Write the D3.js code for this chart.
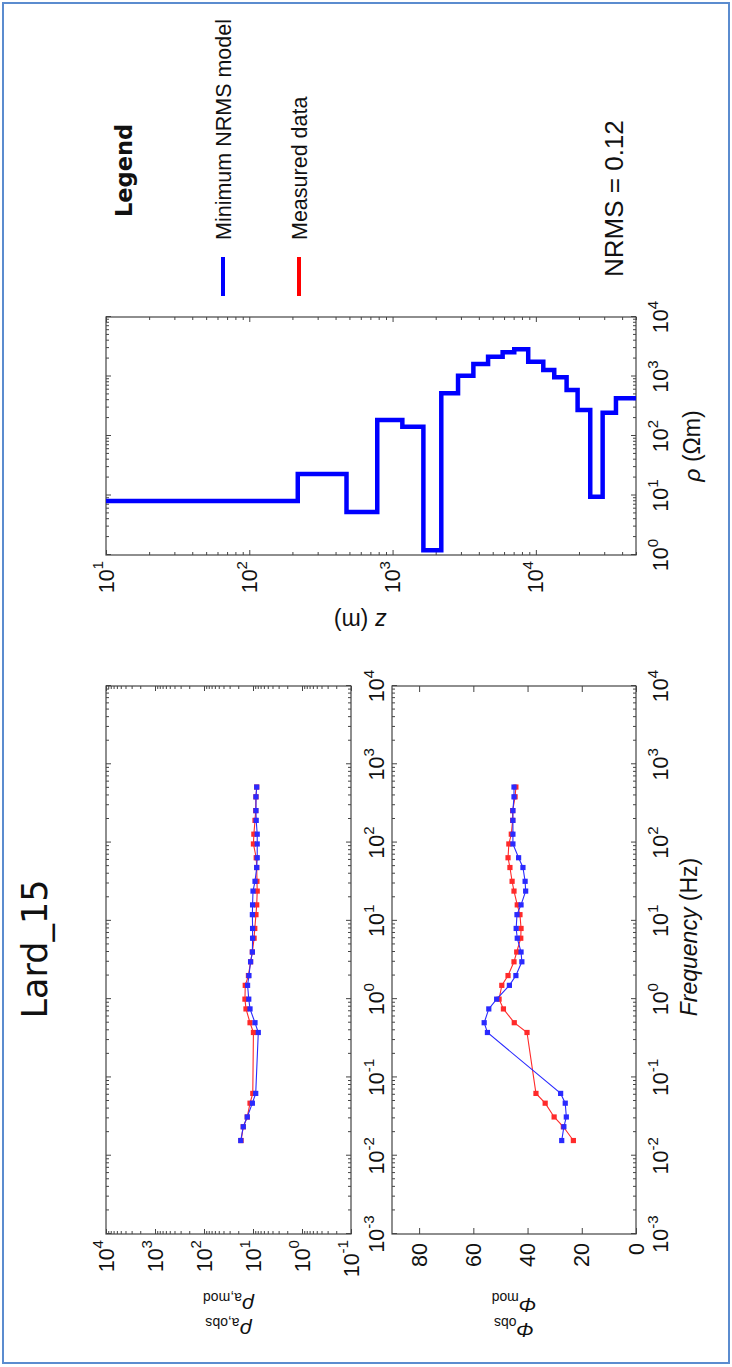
<!DOCTYPE html>
<html><head><meta charset="utf-8">
<script src="https://cdn.jsdelivr.net/npm/d3@7"></script>
<style>
html,body{margin:0;padding:0;background:#fff;}
svg{display:block;}
text{font-family:"Liberation Sans", Arial, sans-serif; fill:#111;}
</style></head>
<body><svg id="c" width="732" height="1367"></svg>
<script>
// ---------- data ----------
const frequencies = [0.015625, 0.0234375, 0.03125, 0.046875, 0.0625, 0.375, 0.5, 0.75, 1, 1.5, 2, 3, 4, 6, 8, 12, 16, 24, 32, 48, 64, 96, 128, 192, 256, 384, 512];
const rhoObs   = [17.5, 15.8, 13.1, 11.5, 10.1, 9.8, 11.5, 13.9, 14.6, 14.4, 12.4, 11.2, 10.3, 9.5, 9.2, 8.7, 8.4, 8.2, 8.3, 8.4, 8.6, 9.8, 9.6, 9.1, 8.8, 8.7, 8.4];
const rhoMod   = [17.8, 15.8, 13.1, 10.3, 8.8, 7.8, 9.1, 11.5, 12.2, 12.9, 12.1, 11.2, 10.3, 10.2, 10.2, 10.3, 10.2, 10.0, 9.1, 8.4, 8.2, 8.2, 8.2, 8.6, 8.7, 8.7, 8.4];
const phaseObs = [23.1, 26.8, 30.2, 33.5, 36.9, 40.2, 44.9, 48.9, 50.5, 49.5, 47.2, 45.0, 44.0, 42.5, 42.4, 42.8, 43.8, 45.0, 45.7, 46.5, 47.2, 46.9, 46.0, 45.5, 45.5, 44.6, 44.3];
const phaseMod = [27.4, 26.6, 25.7, 26.1, 27.8, 54.8, 56.0, 54.3, 51.4, 46.7, 44.3, 42.1, 42.4, 43.8, 44.2, 43.9, 42.4, 40.7, 40.9, 41.7, 43.3, 45.4, 45.4, 45.4, 45.4, 45.0, 45.0];
// layered model: boundaries (m) and resistivity of each layer (Ohm m)
const layerDepths = [10, 218, 477, 782, 1170, 1641, 2188, 2864, 3664, 4641, 5864, 7069, 8845, 11270, 13440, 16390, 19560, 23970, 29250, 36230, 50000];
const layerRho    = [8.1, 23, 5.3, 186, 143, 1.2, 522, 1031, 1622, 2153, 2548, 2866, 1774, 1285, 970, 593, 274, 9.5, 246, 430];
// ticks / labels
const freqTicks = [1e-3, 1e-2, 1e-1, 1, 10, 100, 1000, 10000];
const freqExp   = ["-3", "-2", "-1", "0", "1", "2", "3", "4"];
const rhoaTicks = [1e-1, 1, 10, 100, 1000, 10000];
const rhoaExp   = ["-1", "0", "1", "2", "3", "4"];
const phaseTicks = [0, 20, 40, 60, 80];
const depthTicks = [10, 100, 1000, 10000];
const depthExp   = ["1", "2", "3", "4"];
const rhoTicks = [1, 10, 100, 1000, 10000];
const rhoExp   = ["0", "1", "2", "3", "4"];
const titleText = "Lard_15";
const legendTitle = "Legend";
const legendItems = ["Minimum NRMS model", "Measured data"];
const nrmsText = "NRMS = 0.12";

// ---------- layout (unrotated frame, 1367 wide x 732 tall) ----------
const W = 1367;
const P1 = {x0:133, x1:681, y0:106, y1:351};
const P2 = {x0:133, x1:681, y0:392, y1:636};
const P3 = {x0:812, x1:1050, y0:106, y1:636};
const BLUE = "#2a2aff", RED = "#ff2a2a", AX = "#444";

const svg = d3.select("#c");
svg.append("rect").attr("x",3).attr("y",3).attr("width",726).attr("height",1360)
  .attr("fill","none").attr("stroke","#5b8ccf").attr("stroke-width",2);
const g = svg.append("g").attr("transform", `translate(0,${W}) rotate(-90)`);

// scales
const fx1 = d3.scaleLog().domain([1e-3, 1e4]).range([P1.x0, P1.x1]);
const ry  = d3.scaleLog().domain([1e-1, 1e4]).range([P1.y1, P1.y0]);
const py  = d3.scaleLinear().domain([0, 90]).range([P2.y1, P2.y0]);
const mx  = d3.scaleLog().domain([1, 1e4]).range([P3.x0, P3.x1]);
const mz  = d3.scaleLog().domain([10, 50000]).range([P3.y0, P3.y1]);

function minorOf(scale){
  return scale.ticks().filter(t => Math.abs(Math.log10(t) - Math.round(Math.log10(t))) > 1e-6);
}
function majorOf(scale){
  return scale.ticks().filter(t => Math.abs(Math.log10(t) - Math.round(Math.log10(t))) <= 1e-6);
}
function strip(sel){ sel.select(".domain").remove(); sel.selectAll(".tick line").attr("stroke", AX); }

function frame(P){
  g.append("rect").attr("x",P.x0).attr("y",P.y0).attr("width",P.x1-P.x0).attr("height",P.y1-P.y0)
   .attr("fill","none").attr("stroke",AX).attr("stroke-width",1.2);
}
function hTicks(scale, P, log, majLen, minLen, vals){
  const sets = log ? [[majorOf(scale), majLen],[minorOf(scale), minLen]] : [[vals, majLen]];
  sets.forEach(([tv, len]) => {
    g.append("g").attr("transform",`translate(0,${P.y1})`)
      .call(d3.axisBottom(scale).tickValues(tv).tickSize(-len).tickFormat("")).call(strip);
    g.append("g").attr("transform",`translate(0,${P.y0})`)
      .call(d3.axisTop(scale).tickValues(tv).tickSize(-len).tickFormat("")).call(strip);
  });
}
function vTicks(scale, P, log, majLen, minLen, vals){
  const sets = log ? [[majorOf(scale), majLen],[minorOf(scale), minLen]] : [[vals, majLen]];
  sets.forEach(([tv, len]) => {
    g.append("g").attr("transform",`translate(${P.x0},0)`)
      .call(d3.axisLeft(scale).tickValues(tv).tickSize(-len).tickFormat("")).call(strip);
    g.append("g").attr("transform",`translate(${P.x1},0)`)
      .call(d3.axisRight(scale).tickValues(tv).tickSize(-len).tickFormat("")).call(strip);
  });
}
// power-of-ten label
function powLabel(sel, fs){
  sel.each(function(d){
    const t = d3.select(this);
    t.append("tspan").text("10");
    t.append("tspan").attr("dy", -0.47*fs).style("font-size", (fs*0.7)+"px").text(d.e);
  });
}
const FS = 21.5;

// ---------- panel 1: apparent resistivity ----------
frame(P1);
hTicks(fx1, P1, true, 5, 3);
vTicks(ry, P1, true, 5, 3);
g.append("g").selectAll("text").data(rhoaTicks.map((v,i)=>({v, e:rhoaExp[i]}))).join("text")
  .attr("x", P1.x0-6).attr("y", d => ry(d.v)+7.5).attr("text-anchor","end")
  .style("font-size", FS+"px").call(powLabel, FS);
g.append("g").selectAll("text").data(freqTicks.map((v,i)=>({v, e:freqExp[i]}))).join("text")
  .attr("x", d => fx1(d.v)).attr("y", P1.y1+33).attr("text-anchor","middle")
  .style("font-size", FS+"px").call(powLabel, FS);

const clip1 = g.append("clipPath").attr("id","cp1").append("rect")
  .attr("x",P1.x0).attr("y",P1.y0).attr("width",P1.x1-P1.x0).attr("height",P1.y1-P1.y0);
function series(P, yScale, vals, color, clipId){
  const pts = frequencies.map((f,i)=>[fx1(f), yScale(vals[i])]);
  const gg = g.append("g").attr("clip-path",`url(#${clipId})`);
  gg.append("path").attr("d", d3.line()(pts)).attr("fill","none").attr("stroke",color).attr("stroke-width",1.1);
  gg.selectAll("rect").data(pts).join("rect")
    .attr("x", d=>d[0]-2.6).attr("y", d=>d[1]-2.6).attr("width",5.2).attr("height",5.2).attr("fill",color);
}
series(P1, ry, rhoObs, RED, "cp1");
series(P1, ry, rhoMod, BLUE, "cp1");

// ---------- panel 2: phase ----------
frame(P2);
hTicks(fx1, P2, true, 5, 3);
vTicks(py, P2, false, 6, 0, phaseTicks);
g.append("clipPath").attr("id","cp2").append("rect")
  .attr("x",P2.x0).attr("y",P2.y0).attr("width",P2.x1-P2.x0).attr("height",P2.y1-P2.y0);
g.append("g").selectAll("text").data(phaseTicks).join("text")
  .attr("x", P2.x0-9).attr("y", d => py(d)+7.5).attr("text-anchor","end")
  .style("font-size", FS+"px").text(d => d);
g.append("g").selectAll("text").data(freqTicks.map((v,i)=>({v, e:freqExp[i]}))).join("text")
  .attr("x", d => fx1(d.v)).attr("y", P2.y1+32).attr("text-anchor","middle")
  .style("font-size", FS+"px").call(powLabel, FS);
series(P2, py, phaseObs, RED, "cp2");
series(P2, py, phaseMod, BLUE, "cp2");

// axis titles left
const xl = g.append("text").attr("x", 430).attr("y", 697).attr("text-anchor","middle").style("font-size","23px");
xl.append("tspan").style("font-style","italic").text("Frequency");
xl.append("tspan").text(" (Hz)");

function yLab(x, y, sym, sub){
  const t = g.append("text").attr("transform",`translate(${x},${y}) rotate(-90)`).attr("text-anchor","middle").style("font-size","21px");
  t.append("tspan").style("font-style","italic").text(sym);
  t.append("tspan").attr("dy",5).style("font-size","14px").text(sub);
}
yLab(44, (P1.y0+P1.y1)/2, "\u03c1", "a,obs");
yLab(69, (P1.y0+P1.y1)/2, "\u03c1", "a,mod");
yLab(44, (P2.y0+P2.y1)/2, "\u03a6", "obs");
yLab(69, (P2.y0+P2.y1)/2, "\u03a6", "mod");

// title
g.append("text").attr("x", 418).attr("y", 47).attr("text-anchor","middle")
  .style("font-family","'DejaVu Sans', sans-serif").style("font-size","35px").text(titleText);

// ---------- panel 3: layered model ----------
frame(P3);
hTicks(mx, P3, true, 5, 3);
vTicks(mz, P3, true, 5, 3);
g.append("g").selectAll("text").data(depthTicks.map((v,i)=>({v, e:depthExp[i]}))).join("text")
  .attr("x", P3.x0-6).attr("y", d => mz(d.v)+7.5).attr("text-anchor","end")
  .style("font-size", FS+"px").call(powLabel, FS);
g.append("g").selectAll("text").data(rhoTicks.map((v,i)=>({v, e:rhoExp[i]}))).join("text")
  .attr("x", d => mx(d.v)).attr("y", P3.y1+32).attr("text-anchor","middle")
  .style("font-size", FS+"px").call(powLabel, FS);
g.append("clipPath").attr("id","cp3").append("rect")
  .attr("x",P3.x0).attr("y",P3.y0-3).attr("width",P3.x1-P3.x0).attr("height",P3.y1-P3.y0+3);
const stepPts = [];
layerRho.forEach((r,i) => { stepPts.push([mx(r), mz(layerDepths[i])]); stepPts.push([mx(r), mz(layerDepths[i+1])]); });
g.append("path").attr("clip-path","url(#cp3)").attr("d", d3.line()(stepPts))
  .attr("fill","none").attr("stroke","#0000ff").attr("stroke-width",4.5).attr("stroke-linejoin","miter");

const rl = g.append("text").attr("x", 921).attr("y", 700).attr("text-anchor","middle").style("font-size","23px");
rl.append("tspan").style("font-style","italic").text("\u03c1");
rl.append("tspan").text("  (\u03a9m)");
const zl = g.append("text").attr("transform",`translate(754,${360}) rotate(-90)`).attr("text-anchor","middle").style("font-size","23px");
zl.append("tspan").style("font-style","italic").text("z");
zl.append("tspan").text(" (m)");

// ---------- legend ----------
g.append("text").attr("x", 1150).attr("y", 132)
  .style("font-family","'DejaVu Sans', sans-serif").style("font-weight","bold").style("font-size","22.5px").text(legendTitle);
const legColors = [BLUE, RED];
const legY = [223, 299];
legendItems.forEach((s,i) => {
  g.append("line").attr("x1",1071).attr("x2",1110).attr("y1",legY[i]).attr("y2",legY[i])
    .attr("stroke", legColors[i]==BLUE ? "#0000ff" : "#ff0000").attr("stroke-width",4);
  g.append("text").attr("x",1127).attr("y",legY[i]+7.5).style("font-size","21.5px").text(s);
});
g.append("text").attr("x",1090).attr("y",623).style("font-size","26px").text(nrmsText);
</script>
</body></html>
